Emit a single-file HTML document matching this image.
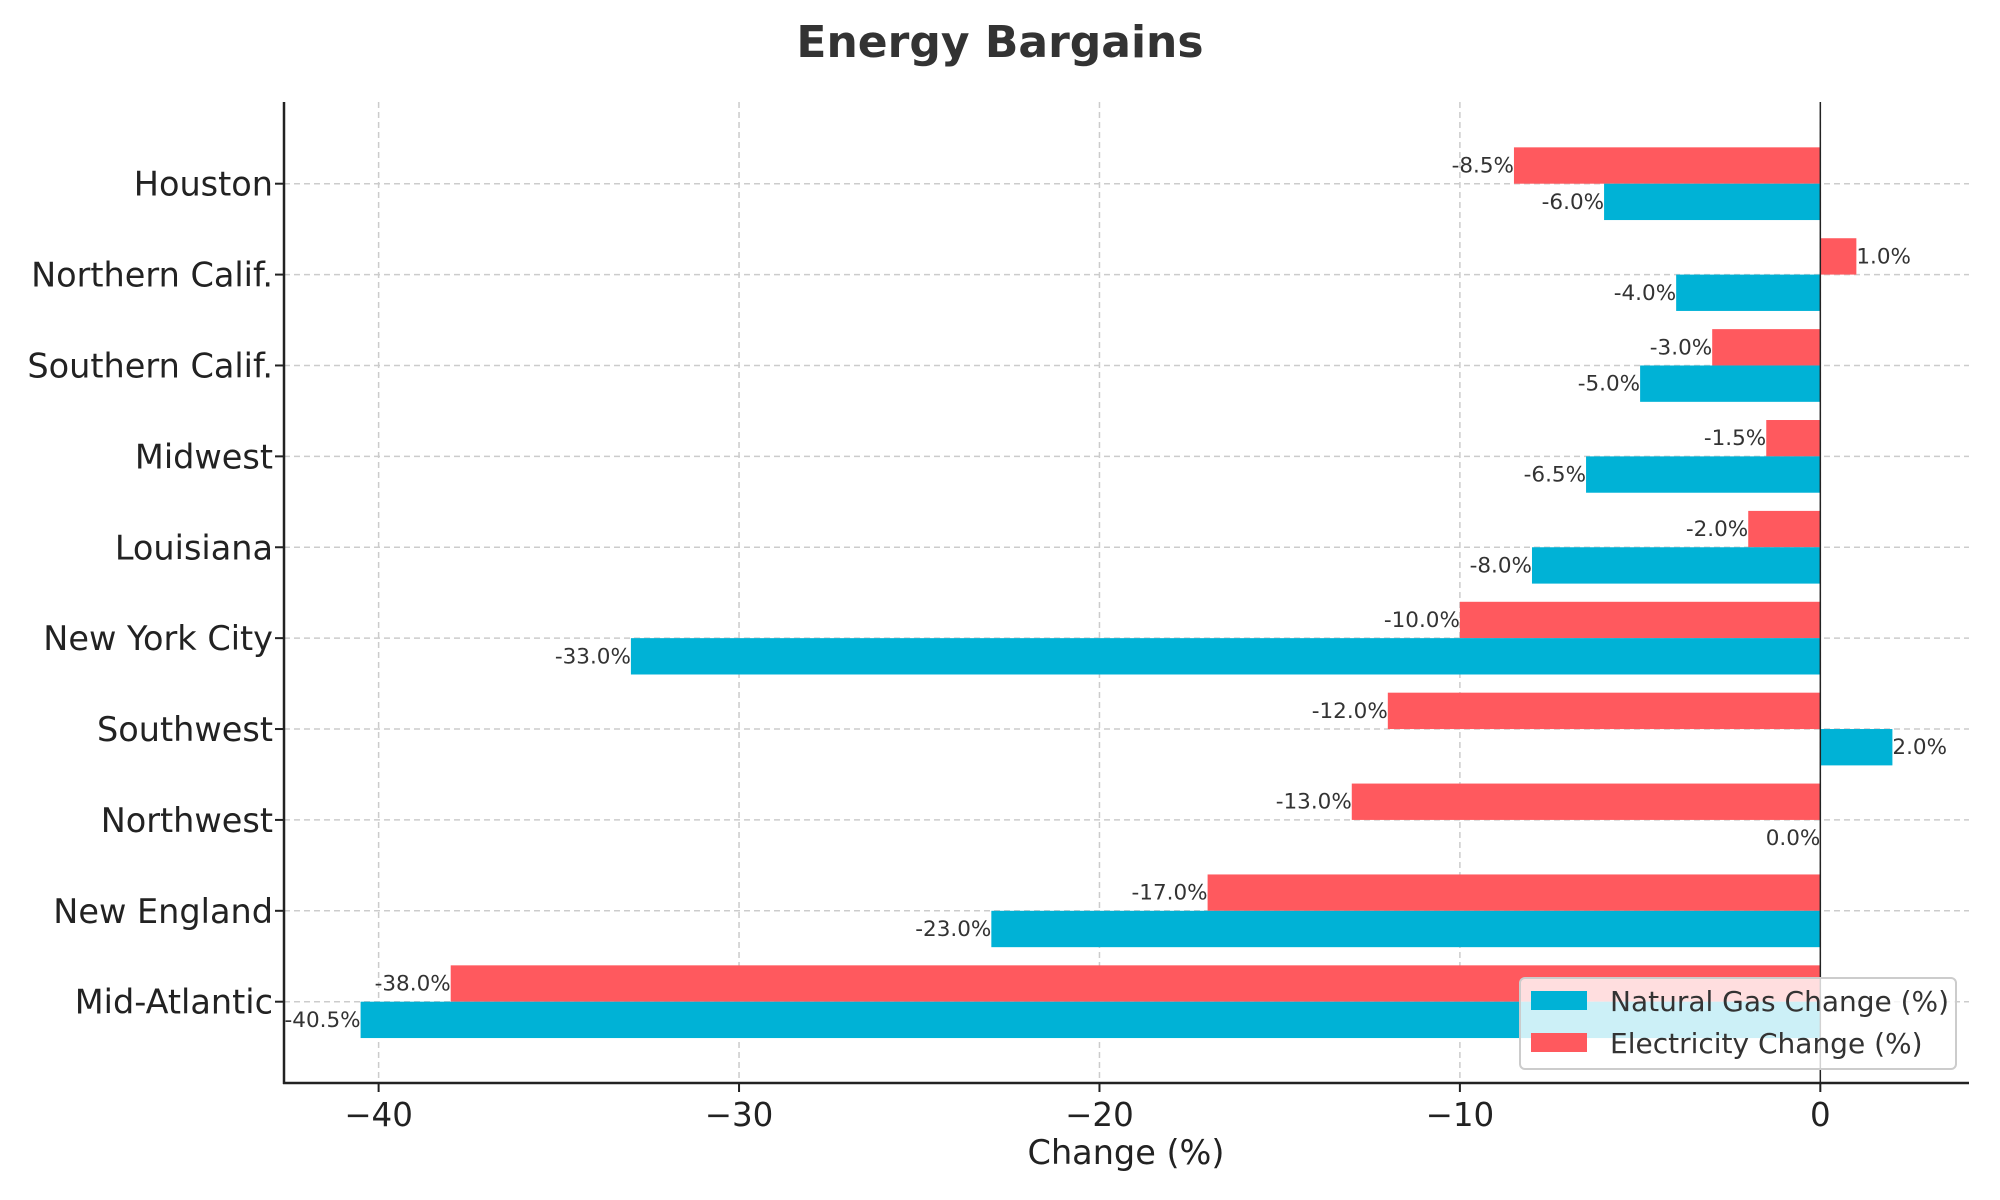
<!DOCTYPE html>
<html><head><meta charset="utf-8"><style>
html,body{margin:0;padding:0;background:#fff;}
svg{display:block;font-family:"DejaVu Sans","Liberation Sans",sans-serif;}
</style></head><body>
<svg id="chart" width="2000" height="1200" viewBox="0 0 2000 1200">
<text x="1000" y="57" text-anchor="middle" font-size="44" font-weight="bold" fill="#333">Energy Bargains</text>
<g id="grid"></g>
<g id="bars"></g>
<g id="labels"></g>
<g id="axes"></g>
<text x="1126" y="1164" text-anchor="middle" font-size="33.5" fill="#222">Change (%)</text>
<g>
<rect x="1520" y="978" width="436" height="91" rx="5" fill="#fff" fill-opacity="0.8" stroke="#ccc" stroke-width="2"/>
<rect x="1531" y="991" width="56" height="19" fill="#00B2D6"/>
<text x="1610" y="1011" font-size="28" fill="#333">Natural Gas Change (%)</text>
<rect x="1531" y="1033" width="56" height="19" fill="#FF595E"/>
<text x="1610" y="1053" font-size="28" fill="#333">Electricity Change (%)</text>
</g>
</svg>
<script>
const categories = ["Houston","Northern Calif.","Southern Calif.","Midwest","Louisiana","New York City","Southwest","Northwest","New England","Mid-Atlantic"];
const gasValues = [-6.0,-4.0,-5.0,-6.5,-8.0,-33.0,2.0,0.0,-23.0,-40.5];
const elecValues = [-8.5,1.0,-3.0,-1.5,-2.0,-10.0,-12.0,-13.0,-17.0,-38.0];
const xTicks = [-40,-30,-20,-10,0];
const xTickLabels = ["\u221240","\u221230","\u221220","\u221210","0"];

const NS="http://www.w3.org/2000/svg";
const L=284,R=1969,T=102,B=1083;
const XMIN=-42.625,XMAX=4.125;
const x=v=>L+(v-XMIN)/(XMAX-XMIN)*(R-L);
const y0=183.7,step=(1001.7-183.7)/(categories.length-1);
const y=i=>y0+i*step;
const bh=0.4*step;
function mk(tag,attrs,parent){const e=document.createElementNS(NS,tag);for(const k in attrs)e.setAttribute(k,attrs[k]);parent.appendChild(e);return e;}
const grid=document.getElementById('grid'),bars=document.getElementById('bars'),labels=document.getElementById('labels'),axes=document.getElementById('axes');
xTicks.forEach((t,i)=>{
  const g=mk('line',{x1:x(t),x2:x(t),y1:T,y2:B,stroke:'#ccc','stroke-width':1.5,'stroke-dasharray':'6,4'},grid);
  
  
  const tk=mk('line',{x1:x(t),x2:x(t),y1:B,y2:B+9,stroke:'#222','stroke-width':2},axes);
  
  
  const tl=mk('text',{x:x(t),y:B+43,'text-anchor':'middle','font-size':32.5,fill:'#222'},axes);
  tl.textContent=xTickLabels[i];
  
  
});
categories.forEach((c,i)=>{
  const g=mk('line',{x1:L,x2:R,y1:y(i),y2:y(i),stroke:'#ccc','stroke-width':1.5,'stroke-dasharray':'6,4'},grid);
  
  
  const tk=mk('line',{x1:L-9,x2:L,y1:y(i),y2:y(i),stroke:'#222','stroke-width':2},axes);
  
  
  const tl=mk('text',{x:L-11,y:y(i)+12,'text-anchor':'end','font-size':33.5,fill:'#222'},axes);
  tl.textContent=c;
  
  
  [[elecValues[i],'#FF595E',y(i)-bh,'bar-electricity'],[gasValues[i],'#00B2D6',y(i),'bar-gas']].forEach(([v,col,top,nm])=>{
    const r=mk('rect',{x:Math.min(x(0),x(v)),y:top,width:Math.abs(x(v)-x(0)),height:bh,fill:col},bars);
    
    
    const lt=mk('text',{x:x(v),y:top+bh/2+7,'text-anchor':v>0?'start':'end','font-size':21.5,fill:'#333'},labels);
    lt.textContent=v.toFixed(1)+'%';
    
    
  });
});
const z=mk('line',{x1:x(0),x2:x(0),y1:T,y2:B,stroke:'#222','stroke-width':1.5},axes);


const la=mk('line',{x1:L,x2:L,y1:T,y2:B+1,stroke:'#222','stroke-width':2.5},axes);


const ba=mk('line',{x1:L-1,x2:R,y1:B,y2:B,stroke:'#222','stroke-width':2.5},axes);


</script>
</body></html>
